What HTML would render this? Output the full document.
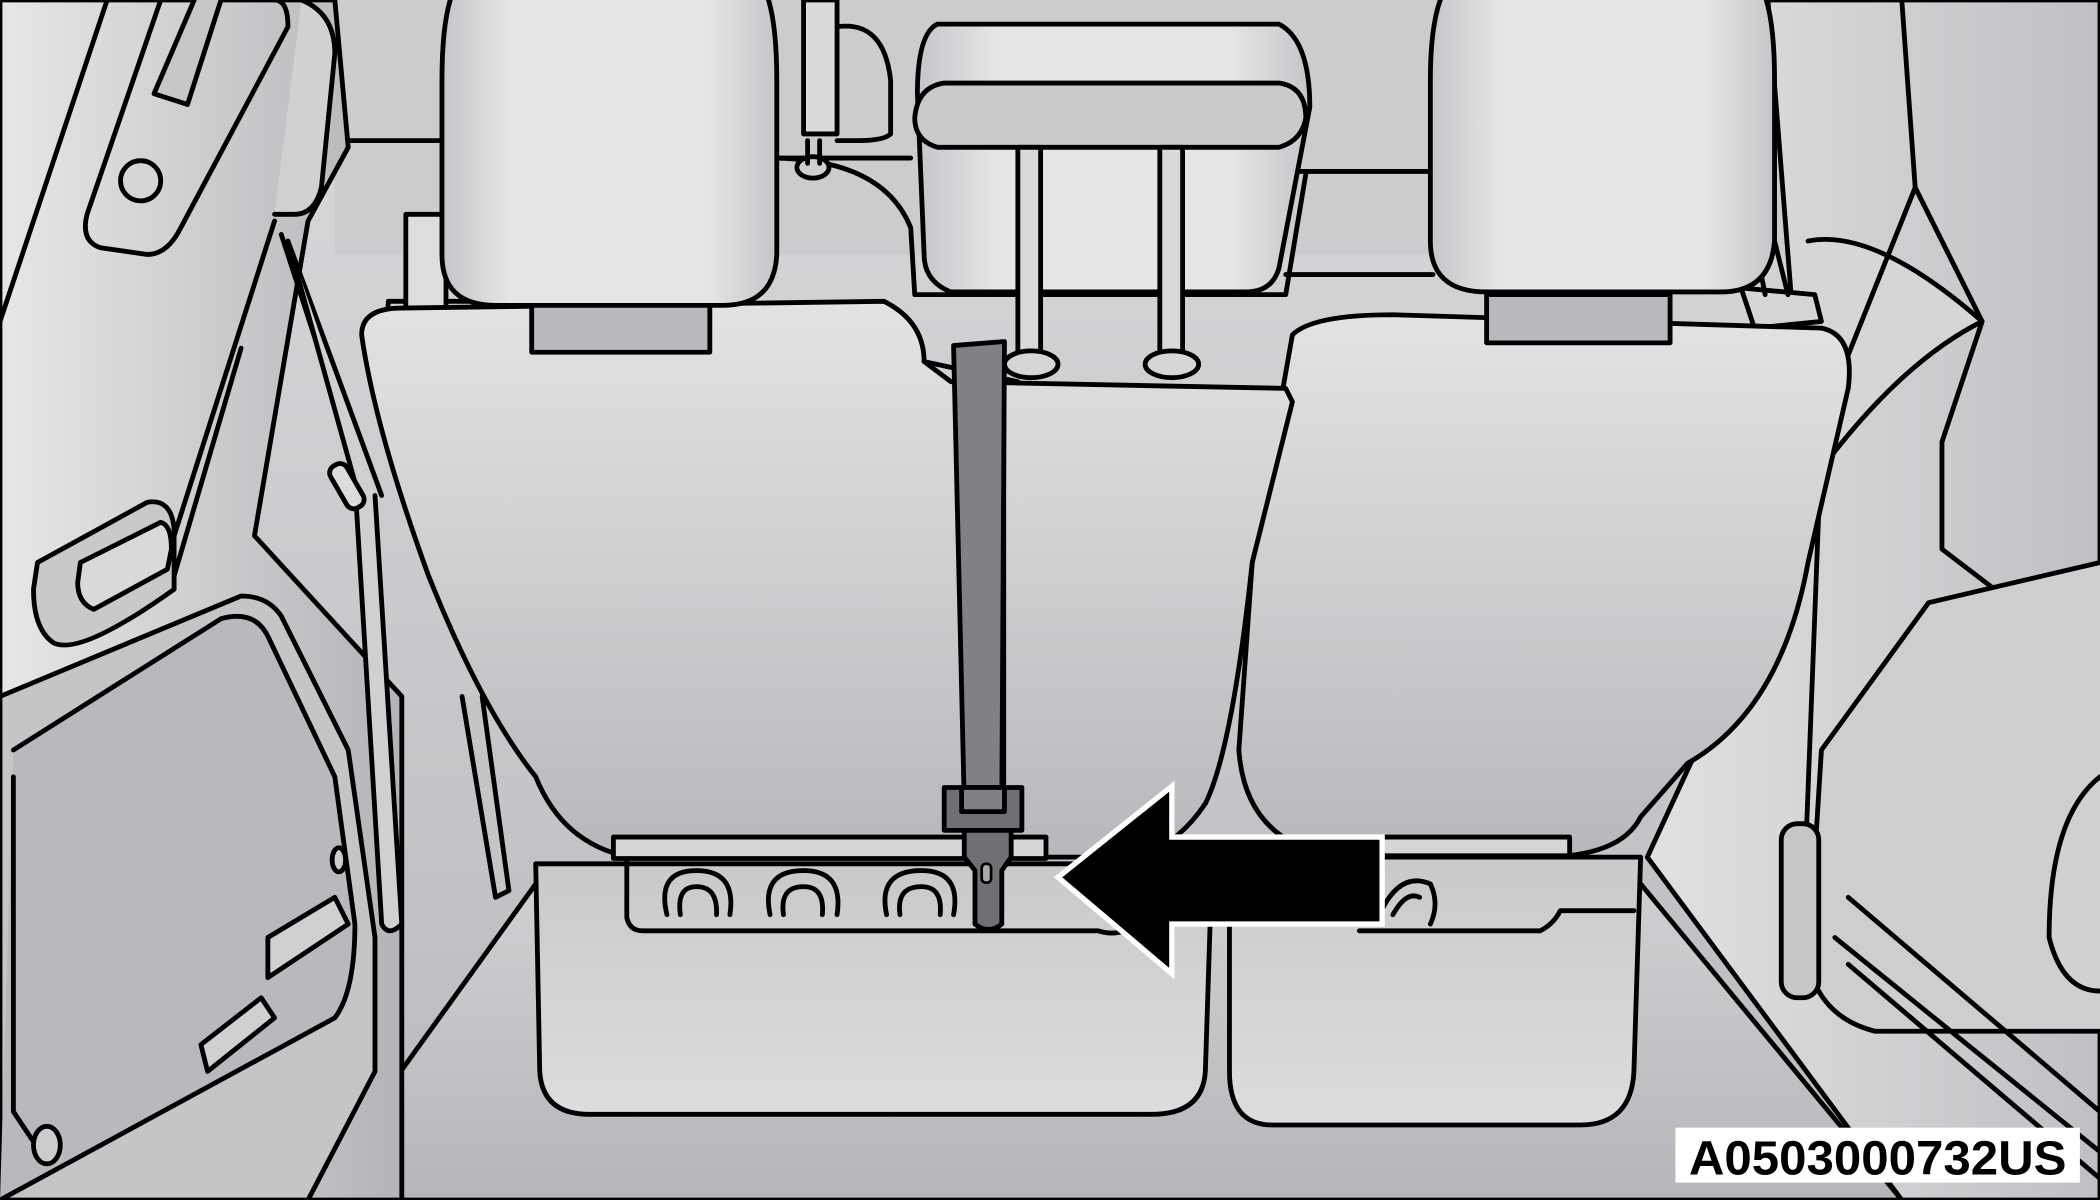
<!DOCTYPE html>
<html><head><meta charset="utf-8"><style>
html,body{margin:0;padding:0;background:#c8c9cb;}
svg{display:block;}
</style></head><body>
<svg width="2100" height="1200" viewBox="0 0 1568 896" preserveAspectRatio="none" xmlns="http://www.w3.org/2000/svg">
<defs>
<linearGradient id="bg" x1="0" y1="0" x2="0" y2="1"><stop offset="0" stop-color="#d9dadc"/><stop offset="1" stop-color="#b9babd"/></linearGradient>
<linearGradient id="seat" x1="0" y1="0" x2="0" y2="1"><stop offset="0" stop-color="#e2e3e4"/><stop offset="1" stop-color="#b7b8bb"/></linearGradient>
<linearGradient id="cush" x1="0" y1="0" x2="0" y2="1"><stop offset="0" stop-color="#c8c9cb"/><stop offset="1" stop-color="#dcdddf"/></linearGradient>
<linearGradient id="hr" x1="0" y1="0" x2="1" y2="0"><stop offset="0" stop-color="#c4c5c8"/><stop offset="0.2" stop-color="#e4e5e6"/><stop offset="0.8" stop-color="#e4e5e6"/><stop offset="1" stop-color="#c4c5c8"/></linearGradient>
<linearGradient id="wall" x1="0" y1="0" x2="1" y2="0"><stop offset="0" stop-color="#e6e7e8"/><stop offset="1" stop-color="#b3b4b7"/></linearGradient>
<linearGradient id="wallr" x1="1" y1="0" x2="0" y2="0"><stop offset="0" stop-color="#bfc0c3"/><stop offset="1" stop-color="#e0e1e2"/></linearGradient>
<linearGradient id="floor" x1="0" y1="0" x2="0" y2="1"><stop offset="0" stop-color="#cfd0d2"/><stop offset="1" stop-color="#b5b6b9"/></linearGradient>
</defs>
<g stroke="#000" stroke-width="3.6" stroke-linejoin="round" stroke-linecap="round">
<rect x="0" y="0" width="1568" height="896" fill="url(#bg)" stroke="none"/>
<path d="M230 896 L400 660 L1225 660 L1420 896 Z" fill="url(#floor)"/>
<path d="M250 0 L1330 0 L1340 190 L250 190 Z" fill="#cbccce" stroke="none"/>
<path d="M255 105 L330 105 M580 118 L680 118 M960 128 L1070 128 M960 205 L1070 205" fill="none"/>
<!-- right wall -->
<path d="M1320 0 L1568 0 L1568 896 L1420 896 L1230 640 L1350 380 Z" fill="url(#wallr)"/>
<path d="M1420 0 L1430 140 L1480 240 L1450 330 L1450 410 L1568 500" fill="none"/>
<path d="M1430 140 L1350 340 M1350 180 Q1400 170 1480 240 Q1420 270 1360 350" fill="#d5d6d8"/>
<path d="M1360 330 L1345 720" fill="none"/>
<path d="M1568 420 L1440 450 L1360 560 L1350 720 Q1360 760 1400 770 L1568 770" fill="#cdced0"/>
<path d="M1380 670 L1568 830 M1380 720 L1568 880 M1370 700 L1568 860" fill="none"/>
<path d="M1568 580 Q1530 610 1530 700 Q1540 740 1568 740" fill="#d0d1d3"/>
<rect x="1330" y="615" width="28" height="130" rx="12" fill="#c5c6c8"/>
<!-- left wall -->
<path d="M0 0 L250 0 L260 110 L230 165 L190 400 L300 520 L300 896 L0 896 Z" fill="url(#wall)"/>
<path d="M80 0 L0 240 M120 0 L65 160 Q60 180 75 185 L110 190 Q125 190 135 170 L215 20 Q215 0 205 0" fill="none"/>
<path d="M145 0 L115 70 L140 78 L165 0" fill="#c5c6c8"/>
<circle cx="105" cy="135" r="15" fill="#d5d6d8"/>
<path d="M225 0 Q250 10 250 40 L240 140 Q235 160 220 160 L205 160" fill="#d0d1d3"/>
<path d="M205 165 L130 400 M210 175 L270 360 M215 180 L285 370" fill="none"/>
<path d="M180 260 L130 430" fill="none"/>
<path d="M28 420 L110 375 Q128 372 130 395 L130 440 Q60 490 40 480 Q25 470 25 440 Z" fill="#c8c9cb"/>
<path d="M60 420 L120 390 Q128 392 128 410 L125 425 L70 455 Q58 450 58 435 Z" fill="#d8d9db"/>
<path d="M0 520 L180 445 Q200 445 210 460 L260 560 L280 700 L280 800 L230 896 L0 896 Z" fill="#c4c5c7"/>
<path d="M10 560 L165 462 Q190 455 200 475 L250 580 L265 690 Q265 740 250 760 L0 896" fill="#b8b9bc"/>
<path d="M10 580 L10 830 L30 860" fill="none"/>
<path d="M200 700 L250 670 L260 690 L200 730 Z M150 780 L195 745 L205 760 L155 800 Z" fill="#cfd0d2"/>
<ellipse cx="253" cy="642" rx="5" ry="9" fill="#ccc"/>
<ellipse cx="35" cy="855" rx="10" ry="14" fill="#ccc"/>
<path d="M215 180 L265 360 L285 690 Q290 700 300 690 L280 370" fill="#cfd0d2"/>
<rect x="252" y="345" width="14" height="36" rx="6" transform="rotate(-30 259 363)" fill="#dcdcdd"/>
<path d="M345 520 L370 670 L380 665 L360 520" fill="#c4c5c7"/>
<path d="M290 225 L355 225 Q360 245 345 245 L300 245 Q288 240 290 225 Z" fill="#d4d5d7"/>
<rect x="303" y="160" width="30" height="72" fill="#dcdddf"/>
<path d="M1300 215 L1355 220 L1360 240 L1310 245 Z" fill="#d4d5d7"/>
<path d="M1310 180 L1318 220 M1325 180 L1335 220" fill="none"/>
<path d="M580 118 Q660 120 680 170 L683 220 L960 220 L975 130" fill="none"/>
<path d="M600 0 L625 0 L625 100 L600 100 Z" fill="#dadadb"/>
<path d="M625 20 Q660 15 665 60 L665 100 Q660 105 640 105 L625 105" fill="none"/>
<ellipse cx="607" cy="125" rx="12" ry="8" fill="#cfd0d2"/>
<path d="M603 105 L603 122 M612 105 L612 122" fill="none"/>
<!-- right seatback -->
<path d="M965 250 Q980 235 1040 235 L1360 245 Q1385 250 1380 290 L1350 420 Q1330 530 1260 570 L1225 610 Q1210 640 1150 640 L1000 640 Q930 630 925 560 L935 420 Z" fill="url(#seat)"/>
<rect x="1110" y="220" width="137" height="36" fill="#b8b9bc"/>
<path d="M918 640 L1225 640 L1220 800 Q1218 840 1180 840 L950 840 Q918 840 918 800 Z" fill="url(#cush)"/>
<path d="M1015 695 L1150 695 Q1160 690 1165 680 L1220 680" fill="none"/>
<rect x="1032" y="625" width="140" height="14" fill="#d5d6d8"/>
<!-- left seatback -->
<path d="M270 250 Q270 230 300 230 L660 225 Q690 240 690 270 L710 285 L960 290 L965 300 L935 420 Q920 560 900 600 Q880 630 850 640 L470 640 Q420 630 400 580 Q360 530 320 430 Q280 320 270 250 Z" fill="url(#seat)"/>
<path d="M690 270 L760 285" fill="none"/>
<path d="M750 290 L750 640" fill="none" stroke-width="2.5"/>
<rect x="397" y="225" width="133" height="38" fill="#b8b9bc"/>
<path d="M400 645 L905 645 L900 800 Q898 832 860 832 L440 832 Q405 832 403 800 Z" fill="url(#cush)"/>
<path d="M468 640 L468 685 Q470 695 480 695 L820 695 Q835 700 850 690" fill="none"/>
<rect x="458" y="625" width="323" height="16" fill="#d5d6d8"/>
<g fill="none" stroke-width="3.6">
<path d="M498 683 Q490 650 520 650 Q550 650 545 683 M508 683 Q505 662 520 662 Q536 662 535 683"/>
<path d="M575 683 Q568 650 600 650 Q630 650 625 683 M585 683 Q582 662 600 662 Q616 662 614 683"/>
<path d="M662 683 Q655 650 688 650 Q718 650 712 683 M672 683 Q669 662 688 662 Q704 662 702 683"/>
<path d="M1030 683 Q1045 650 1068 660 Q1075 675 1068 690 M1040 683 Q1050 665 1060 670"/>
</g>
<!-- headrests -->
<path d="M340 -10 L570 -10 Q580 10 580 60 L580 190 Q578 228 540 228 L370 228 Q330 228 330 190 L330 60 Q330 10 340 -10 Z" fill="url(#hr)"/>
<path d="M1080 -10 L1315 -10 Q1325 10 1325 60 L1325 180 Q1322 218 1285 218 L1110 218 Q1068 218 1068 180 L1068 60 Q1068 10 1080 -10 Z" fill="url(#hr)"/>
<path d="M700 18 L955 18 Q978 30 978 80 L955 200 Q950 218 930 218 L710 218 Q690 210 690 190 L685 70 Q685 25 700 18 Z" fill="url(#hr)"/>
<path d="M705 62 L955 62 Q975 65 975 88 Q972 105 955 110 L700 110 Q683 105 683 88 Q685 65 705 62 Z" fill="#c9cacc"/>
<rect x="760" y="110" width="17" height="160" fill="#d8d9db"/>
<rect x="866" y="110" width="17" height="160" fill="#d8d9db"/>
<ellipse cx="770" cy="272" rx="20" ry="10" fill="#d5d6d8"/>
<ellipse cx="875" cy="272" rx="20" ry="10" fill="#d5d6d8"/>
<!-- belt -->
<path d="M712 258 L750 255 L748 600 L720 600 Z" fill="#808184"/>
<rect x="705" y="588" width="58" height="32" fill="#6f7073"/>
<rect x="718" y="588" width="32" height="18" fill="#808184"/>
<path d="M720 620 L755 620 L755 640 L748 650 L748 690 Q738 698 728 690 L728 650 L720 640 Z" fill="#6f7073"/>
<rect x="733" y="645" width="7" height="14" rx="3" fill="#aaa" stroke-width="2"/>
<!-- arrow -->
<path d="M790 655 L875 587 L875 625 L1032 625 L1032 690 L875 690 L875 727 Z" fill="#000" stroke="#fff" stroke-width="4" stroke-linejoin="miter"/>
</g>
<rect x="1251" y="842" width="302" height="41" fill="#fff"/>
<text x="1402" y="877" text-anchor="middle" font-family="'Liberation Sans', sans-serif" font-weight="bold" font-size="36" textLength="282" lengthAdjust="spacingAndGlyphs" fill="#000">A0503000732US</text>
</svg>
</body></html>
